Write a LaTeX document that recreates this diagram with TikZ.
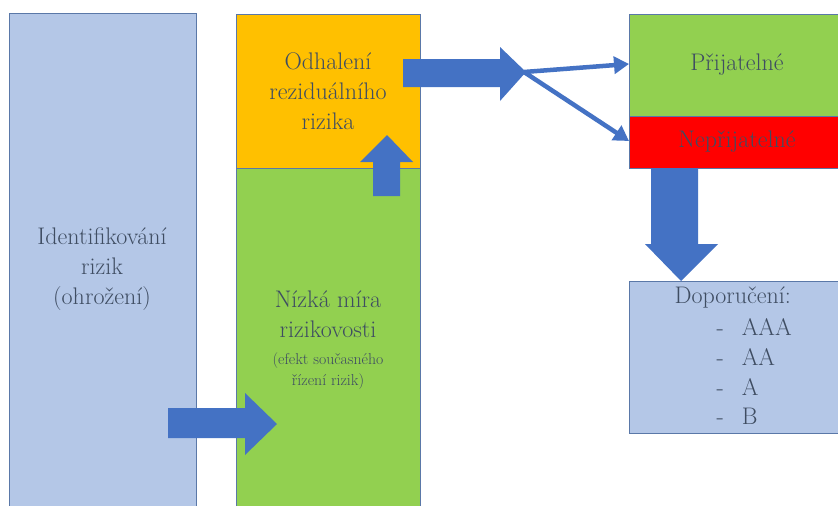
\documentclass[tikz,border=0pt]{standalone}
\usepackage{fontspec}
\usetikzlibrary{arrows.meta}
\definecolor{lblue}{HTML}{B4C7E7}
\definecolor{orng}{HTML}{FFC000}
\definecolor{grn}{HTML}{92D050}
\definecolor{rd}{HTML}{FF0000}
\definecolor{arr}{HTML}{4472C4}
\definecolor{txt}{HTML}{3F4D62}
\definecolor{edge}{HTML}{5A78A8}
\tikzset{
  box/.style={draw=edge, line width=0.8pt},
  blk/.style={fill=arr, draw=none},
  thinarr/.style={draw=arr, line width=4.5pt, -{Triangle[length=15pt,width=17pt]}},
  big/.style={text=txt, align=center, font=\rmfamily\fontsize{24}{30}\selectfont},
  small/.style={text=txt, align=center, font=\rmfamily\fontsize{15.8}{21}\selectfont},
}
\begin{document}
\begin{tikzpicture}[x=1pt,y=-1pt]
\useasboundingbox (0,0) rectangle (838,506);
\clip (0,0) rectangle (838,506);
\fill[white] (0,0) rectangle (838,506);
% boxes
\draw[box, fill=lblue] (9,13) rectangle (196,520);
\draw[box, fill=orng] (236,14) rectangle (420,168);
\draw[box, fill=grn] (236,168) rectangle (420,520);
\draw[box, fill=grn] (629,14) rectangle (850,116);
\draw[box, fill=rd] (629,116) rectangle (850,168);
\draw[box, fill=lblue] (629,281) rectangle (850,433);
% texts
\node[big] (ident) at (102,269) {Identifikování\\rizik\\(ohrožení)};
\node[big] (odh) at (328,91) {Odhalení\\reziduálního\\rizika};
\node[big] (nizka) at (328,314) {Nízká míra\\rizikovosti};
\node[small] (efekt) at (328,371) {(efekt současného\\řízení rizik)};
\node[big] (prij) at (737,65) {Přijatelné};
\node[big] (neprij) at (737,142) {Nepřijatelné};
\node[big, anchor=west] (dop) at (671,297) {Doporučení:};
\node[big, anchor=west] (d1) at (713,327) {-\hspace{18pt}AAA};
\node[big, anchor=west] (d2) at (713,357) {-\hspace{18pt}AA};
\node[big, anchor=west] (d3) at (713,387) {-\hspace{18pt}A};
\node[big, anchor=west] (d4) at (713,416) {-\hspace{18pt}B};
% block arrows
\fill[blk] (403,59) -- (500,59) -- (500,47) -- (526,72) -- (500,101) -- (500,87) -- (403,87) -- cycle;
\fill[blk] (373,196) -- (373,162) -- (360,162) -- (387,135) -- (413,162) -- (400,162) -- (400,196) -- cycle;
\fill[blk] (651,168) -- (698,168) -- (698,244) -- (718,244) -- (681,281) -- (645,244) -- (651,244) -- cycle;
\fill[blk] (168,408) -- (245,408) -- (245,393) -- (277,424) -- (245,455) -- (245,438) -- (168,438) -- cycle;
% thin arrows
\coordinate (j) at (524,72);
\coordinate (ta) at (629,64);
\coordinate (tb) at (629,141);
\draw[thinarr] (j) -- (ta);
\draw[thinarr] (j) -- (tb);
\end{tikzpicture}
\end{document}
